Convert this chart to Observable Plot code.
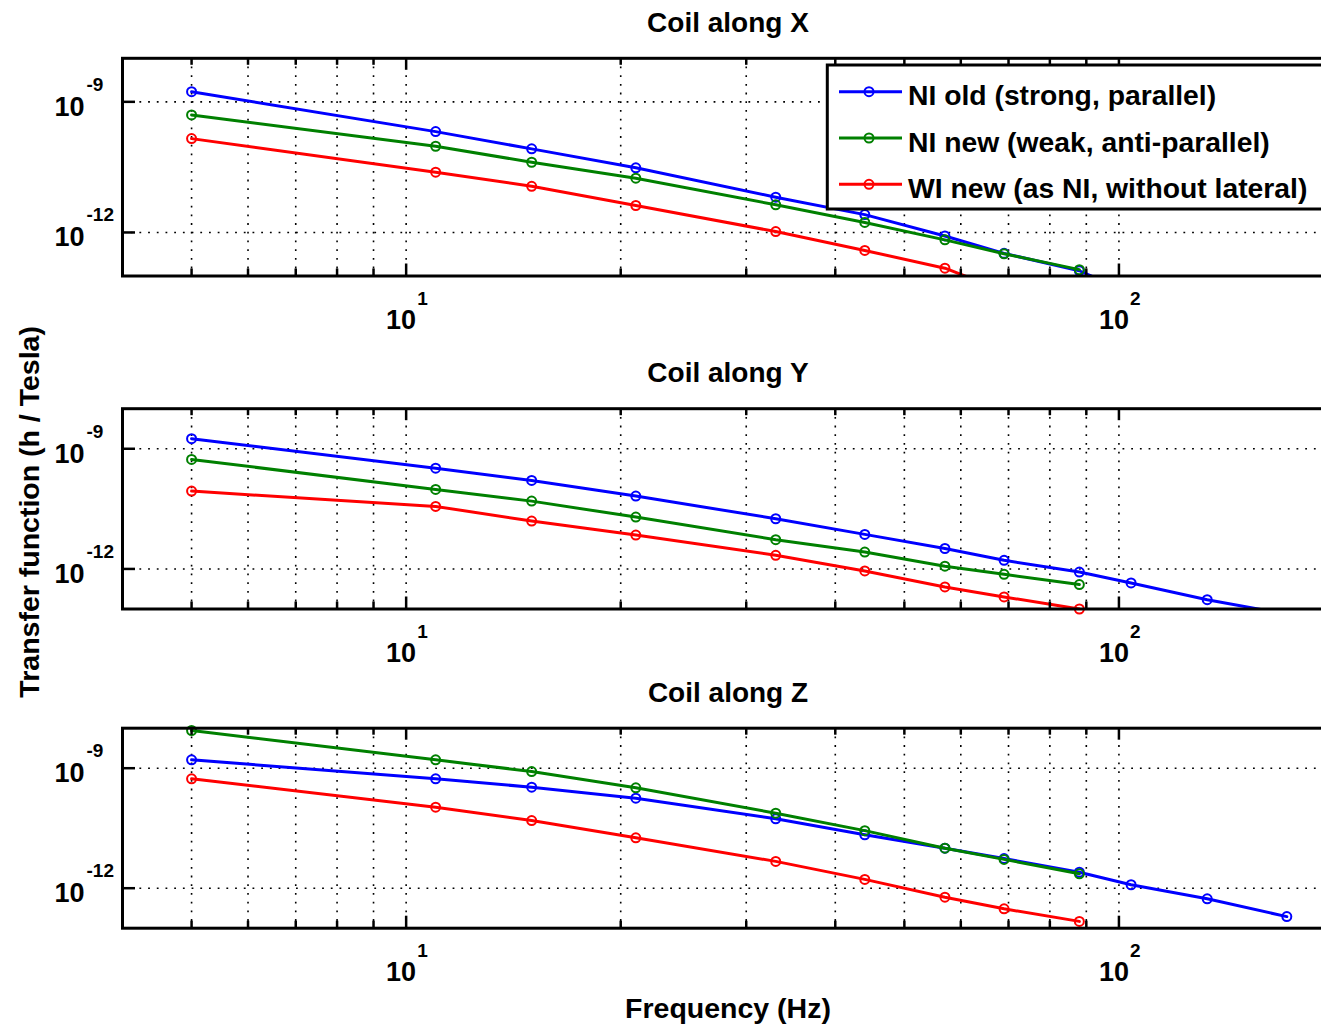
<!DOCTYPE html>
<html>
<head>
<meta charset="utf-8">
<script src="https://cdn.jsdelivr.net/npm/d3@7"></script>
<script src="https://cdn.jsdelivr.net/npm/@observablehq/plot@0.6"></script>
<style>
html, body { margin: 0; padding: 0; background: #fff; overflow: hidden; }
#chart { position: relative; width: 1321px; height: 1024px; overflow: hidden; background: #fff;
  font-family: "Liberation Sans", Arial, Helvetica, sans-serif; }
</style>
</head>
<body>
<div id="chart"></div>
<script>
// ---------- data ----------
const freqs = [5, 11, 15, 21, 33, 44, 57, 69, 88, 104, 133, 172];
const seriesNames = ["NI old (strong, parallel)", "NI new (weak, anti-parallel)", "WI new (as NI, without lateral)"];
const panelTitles = ["Coil along X", "Coil along Y", "Coil along Z"];

// Coil along X
const xNIold = [1.71e-9, 2.07e-10, 8.32e-11, 3.05e-11, 6.46e-12, 2.57e-12, 8.32e-13, 3.31e-13, 1.32e-13, 3.98e-14, 1.58e-14, 6.3e-15];
const xNInew = [5.01e-10, 9.55e-11, 4.10e-11, 1.76e-11, 4.32e-12, 1.70e-12, 6.76e-13, 3.24e-13, 1.40e-13];
const xWInew = [1.43e-10, 2.42e-11, 1.15e-11, 4.16e-12, 1.05e-12, 3.86e-13, 1.51e-13, 4.5e-14, 1.8e-14];
// Coil along Y
const yNIold = [1.78e-9, 3.28e-10, 1.62e-10, 6.61e-11, 1.79e-11, 7.29e-12, 3.24e-12, 1.64e-12, 8.38e-13, 4.47e-13, 1.71e-13, 7.4e-14];
const yNInew = [5.41e-10, 9.66e-11, 4.93e-11, 1.97e-11, 5.37e-12, 2.64e-12, 1.17e-12, 7.33e-13, 4.07e-13];
const yWInew = [8.77e-11, 3.64e-11, 1.57e-11, 7.0e-12, 2.19e-12, 8.91e-13, 3.55e-13, 2.0e-13, 1.0e-13];
// Coil along Z
const zNIold = [1.62e-9, 5.43e-10, 3.35e-10, 1.78e-10, 5.43e-11, 2.16e-11, 1.0e-11, 5.5e-12, 2.51e-12, 1.22e-12, 5.43e-13, 1.95e-13];
const zNInew = [8.76e-9, 1.62e-9, 8.26e-10, 3.24e-10, 7.50e-11, 2.75e-11, 1.0e-11, 5.25e-12, 2.29e-12];
const zWInew = [5.43e-10, 1.06e-10, 4.9e-11, 1.82e-11, 4.68e-12, 1.66e-12, 5.96e-13, 3.05e-13, 1.48e-13];

const xGridValues = [5, 6, 7, 8, 9, 10, 20, 30, 40, 50, 60, 70, 80, 90, 100];
const xTickValues = [10, 100];
const xTickExponents = ["1", "2"];
const yTickValues = [1e-9, 1e-12];
const yTickExponents = ["-9", "-12"];
const xDomain = [4, 200];
const yDomain = [1e-13, 1e-8];
const xLabel = "Frequency (Hz)";
const yLabel = "Transfer function (h / Tesla)";

// ---------- styles / layout ----------
const seriesColors = ["#0000ff", "#008000", "#ff0000"];
const FONT = "Liberation Sans, Arial, Helvetica, sans-serif";
const W = 1334, ML = 122, MR = 1;
const layout = [
  {top: 0, height: 340, mt: 57.8, mb: 64.5},
  {top: 345, height: 325, mt: 63.2, mb: 61.5},
  {top: 665, height: 359, mt: 62.7, mb: 96.3}
];
const panelValues = [[xNIold, xNInew, xWInew], [yNIold, yNInew, yWInew], [zNIold, zNInew, zWInew]];

const chart = document.getElementById("chart");

panelValues.forEach((vals, k) => {
  const L = layout[k];
  const rows = [];
  vals.forEach((arr, s) => arr.forEach((v, i) => rows.push({series: seriesNames[s], f: freqs[i], v})));
  const ph = L.height - L.mt - L.mb, pw = W - ML - MR;
  const grid = {stroke: "#000", strokeWidth: 1.6, strokeDasharray: "1.8,6.9"};
  const tick = {stroke: "#000", strokeWidth: 2.5};
  const minor = xGridValues.filter(v => !xTickValues.includes(v));
  const bold = {fontFamily: FONT, fontWeight: "bold", fill: "#000"};

  const marks = [
    Plot.ruleX(xGridValues, {x: d => d, ...grid}),
    Plot.ruleY(yTickValues, {y: d => d, ...grid})
  ];
  seriesNames.forEach((name, s) => {
    const d = rows.filter(r => r.series === name);
    marks.push(Plot.line(d, {x: "f", y: "v", stroke: seriesColors[s], strokeWidth: 3, clip: true}));
    marks.push(Plot.dot(d, {x: "f", y: "v", r: 4.5, stroke: seriesColors[s], strokeWidth: 2, fill: "none",
      filter: r => r.v >= 0.99e-13 && r.v <= 1.01e-8}));
  });
  marks.push(
    Plot.ruleX(minor, {x: d => d, ...tick, insetTop: ph - 7}),
    Plot.ruleX(minor, {x: d => d, ...tick, insetBottom: ph - 7}),
    Plot.ruleX(xTickValues, {x: d => d, ...tick, insetTop: ph - 12}),
    Plot.ruleX(xTickValues, {x: d => d, ...tick, insetBottom: ph - 12}),
    Plot.ruleY(yTickValues, {y: d => d, ...tick, insetRight: pw - 13}),
    Plot.frame({stroke: "#000", strokeWidth: 3}),
    // title
    Plot.text([panelTitles[k]], {text: d => d, frameAnchor: "top", dy: -26.5, lineAnchor: "bottom", fontSize: 28, ...bold}),
    // x tick labels
    Plot.text(xTickValues, {x: d => d, text: () => "10", frameAnchor: "bottom", dx: 10, dy: 53, textAnchor: "end", lineAnchor: "bottom", fontSize: 27, ...bold}),
    Plot.text(xTickValues, {x: d => d, text: (d, i) => xTickExponents[i], frameAnchor: "bottom", dx: 11, dy: 29, textAnchor: "start", lineAnchor: "bottom", fontSize: 19, ...bold}),
    // y tick labels
    Plot.text(yTickValues, {y: d => d, text: () => "10", frameAnchor: "left", dx: -38, dy: 14, textAnchor: "end", lineAnchor: "bottom", fontSize: 27, ...bold}),
    Plot.text(yTickValues, {y: d => d, text: (d, i) => yTickExponents[i], frameAnchor: "left", dx: -36, dy: -11, textAnchor: "start", lineAnchor: "bottom", fontSize: 19, ...bold})
  );
  if (k === 1) {
    marks.push(Plot.text([yLabel], {text: d => d, frameAnchor: "left", dx: -84, dy: 3, rotate: -90, textAnchor: "middle", lineAnchor: "bottom", fontSize: 28.5, ...bold}));
  }
  if (k === 2) {
    marks.push(Plot.text([xLabel], {text: d => d, frameAnchor: "bottom", dy: 89.5, lineAnchor: "bottom", fontSize: 28.5, ...bold}));
  }

  const svg = Plot.plot({
    width: W, height: L.height,
    marginLeft: ML, marginRight: MR, marginTop: L.mt, marginBottom: L.mb,
    x: {type: "log", domain: xDomain, axis: null},
    y: {type: "log", domain: yDomain, axis: null},
    style: {maxWidth: "none", background: "transparent", overflow: "visible", position: "absolute",
      left: "0px", top: L.top + "px", fontFamily: FONT, fontSize: "25px"},
    marks
  });
  chart.appendChild(svg);
});

// ---------- legend (inside the first panel) ----------
const leg = d3.select("#chart").append("svg")
  .attr("width", 1321).attr("height", 230)
  .style("position", "absolute").style("left", "0px").style("top", "0px")
  .style("overflow", "visible");
leg.append("rect").attr("x", 827.3).attr("y", 65).attr("width", 600).attr("height", 144)
  .attr("fill", "#fff").attr("stroke", "#000").attr("stroke-width", 3);
seriesNames.forEach((name, i) => {
  const ly = 91.7 + i * 46.3;
  leg.append("line").attr("x1", 839).attr("x2", 902).attr("y1", ly).attr("y2", ly)
    .attr("stroke", seriesColors[i]).attr("stroke-width", 3);
  leg.append("circle").attr("cx", 869).attr("cy", ly).attr("r", 4.5)
    .attr("fill", "none").attr("stroke", seriesColors[i]).attr("stroke-width", 2);
  leg.append("text").attr("x", 908).attr("y", 105 + i * 46.5)
    .attr("font-family", FONT).attr("font-weight", "bold").attr("font-size", 28.3)
    .attr("fill", "#000").text(name);
});
</script>
</body>
</html>
